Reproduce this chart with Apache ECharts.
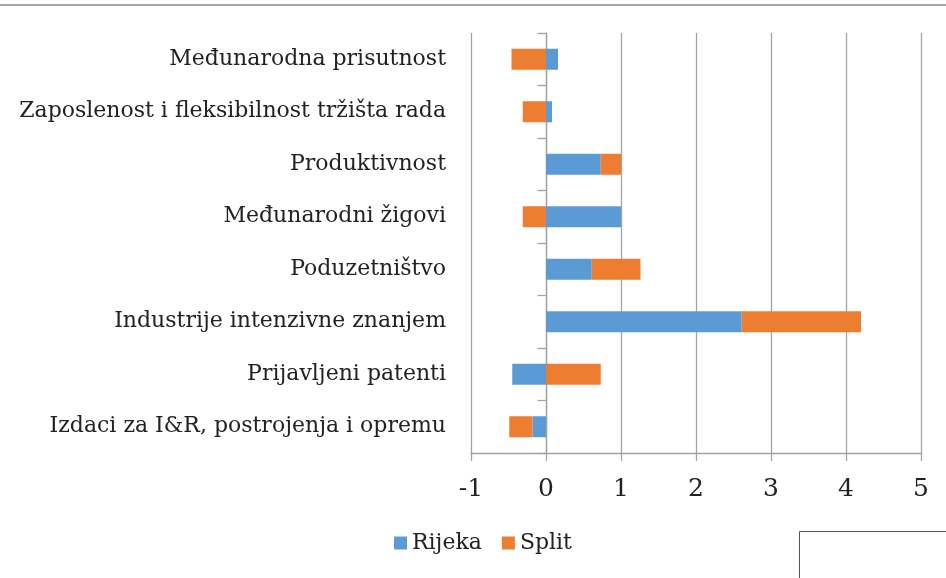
<!DOCTYPE html>
<html lang="hr" style="height: 100%">
<head>
  <meta charset="utf-8">
</head>
<body style="height: 100%; margin: 0; background: #fff">
  <div id="container" style="width: 946px; height: 578px"></div>

  <script type="text/javascript" src="https://fastly.jsdelivr.net/npm/echarts@6.0.0/dist/echarts.min.js"></script>

  <script type="text/javascript">
    // kategorije (odozdo prema gore, kao u Excelu)
    var categories = [
      'Izdaci za I&R, postrojenja i opremu',
      'Prijavljeni patenti',
      'Industrije intenzivne znanjem',
      'Poduzetništvo',
      'Međunarodni žigovi',
      'Produktivnost',
      'Zaposlenost i fleksibilnost tržišta rada',
      'Međunarodna prisutnost'
    ];
    var rijeka = [-0.18, -0.45, 2.61, 0.61, 1.0, 0.73, 0.08, 0.16];
    var split = [-0.31, 0.73, 1.59, 0.65, -0.31, 0.27, -0.31, -0.46];
    var xTicks = [-1, 0, 1, 2, 3, 4, 5];

    var dom = document.getElementById('container');
    var myChart = echarts.init(dom, null, { renderer: 'canvas' });

    var font = 'DejaVu Serif';
    var gridColor = '#a3a3a3';

    var option = {
      animation: false,
      color: ['#5B9BD5', '#ED7D31'],
      grid: {
        left: 471,
        right: 25,
        top: 33,
        bottom: 125
      },
      legend: {
        data: ['Rijeka', 'Split'],
        top: 527,
        left: 389,
        icon: 'rect',
        itemWidth: 13,
        itemHeight: 13,
        itemGap: 20,
        textStyle: { fontFamily: font, fontSize: 22, color: '#222' }
      },
      xAxis: {
        type: 'value',
        min: xTicks[0],
        max: xTicks[xTicks.length - 1],
        interval: 1,
        axisLine: { show: true, onZero: false, lineStyle: { color: gridColor, width: 1.3 } },
        axisTick: { show: true, length: 8, lineStyle: { color: gridColor, width: 1.3 } },
        splitLine: { show: true, lineStyle: { color: gridColor, width: 1.3 } },
        axisLabel: { fontFamily: font, fontSize: 25, color: '#222', margin: 24 }
      },
      yAxis: [
        {
          type: 'category',
          data: categories,
          axisLine: { show: false, onZero: false },
          axisTick: { show: false },
          axisLabel: { fontFamily: font, fontSize: 22, color: '#222', margin: 25 }
        },
        {
          // os kroz nulu s kvačicama
          type: 'category',
          data: categories,
          position: 'left',
          offset: -75.5,
          axisLine: { show: true, onZero: false, lineStyle: { color: gridColor, width: 1.3 } },
          axisTick: { show: true, length: 9, lineStyle: { color: gridColor, width: 1.3 } },
          axisLabel: { show: false }
        }
      ],
      series: [
        {
          name: 'Rijeka',
          type: 'bar',
          stack: 'total',
          barWidth: 21,
          data: rijeka
        },
        {
          name: 'Split',
          type: 'bar',
          stack: 'total',
          barWidth: 21,
          data: split
        }
      ],
      graphic: [
        {
          type: 'line',
          shape: { x1: 0, y1: 5, x2: 946, y2: 5 },
          style: { stroke: '#8c8c8c', lineWidth: 1.5 }
        },
        {
          type: 'rect',
          shape: { x: 799.5, y: 531.5, width: 160, height: 60 },
          style: { fill: '#fff', stroke: '#555', lineWidth: 1 }
        }
      ]
    };

    myChart.setOption(option);
    window.addEventListener('resize', myChart.resize);
  </script>
</body>
</html>
